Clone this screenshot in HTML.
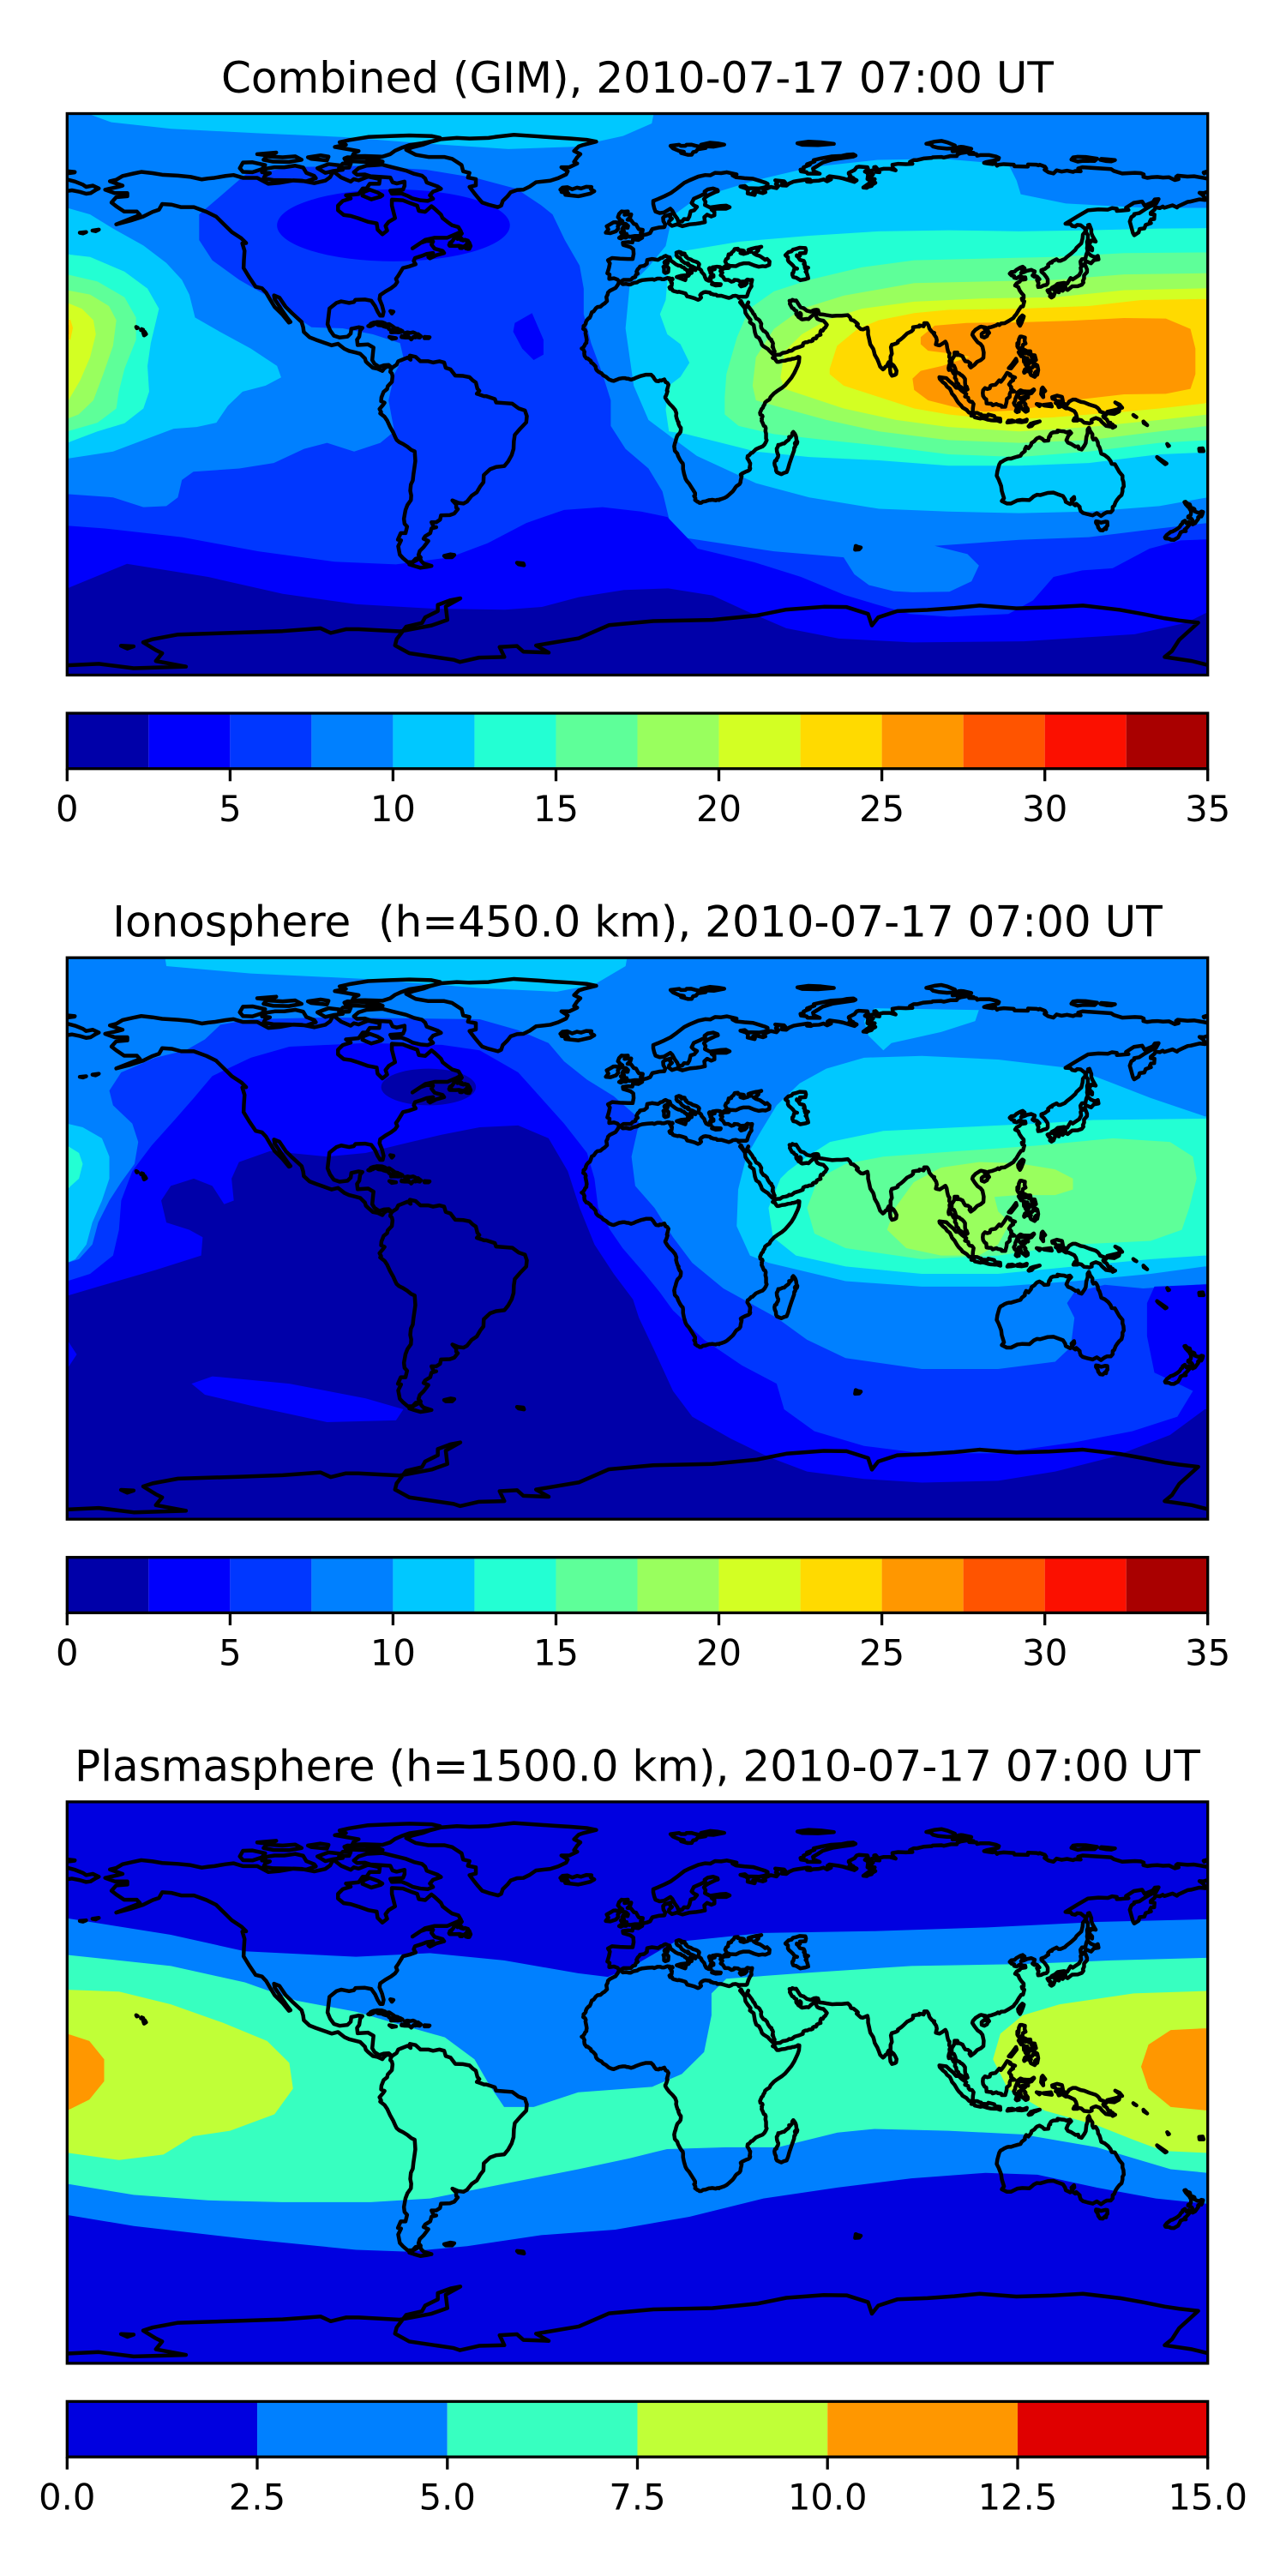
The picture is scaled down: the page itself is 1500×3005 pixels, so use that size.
<!DOCTYPE html>
<html>
<head>
<meta charset="utf-8">
<style>
html,body{margin:0;padding:0;background:#fff;}
body{width:1500px;height:3000px;overflow:hidden;}
svg text{font-family:"DejaVu Sans","Liberation Sans",sans-serif;fill:#000;}
</style>
</head>
<body>
<svg width="1500" height="3000" viewBox="0 0 1500 3000" xmlns="http://www.w3.org/2000/svg">
<defs>
<g id="coast" transform="translate(180 90) scale(1 -1)">
<path fill="none" stroke="#000" stroke-width="4.5" stroke-linejoin="round" stroke-linecap="round" vector-effect="non-scaling-stroke" d="
M -168,65.6 -165,64.5 -161,64.5 -161,63.5 -164.5,63.2 -166,61.5 -164.5,60.3 -162,58.6 -158,58.6 -157,57.5 -162,55.5 -164.5,54.5 -160,55.7 -156,57 -153,58.5 -151,59.2 -150,61 -147,60.8 -144,60 -140,60 -136,58.5 -133,57 -131,55 -130,54 -128,52 -125,50 -123.5,48.5 -124.7,48.4 -124,46 -124.2,43 -124.3,40.5 -122.5,37.5 -120.5,34.5 -118.5,34 -117.2,32.6 -116,30.5 -114.5,28 -112,25.5 -110,23 -109.5,23.2 -110.5,24.5 -112.2,27 -114.5,30.5 -114.7,31.7 -113,31 -111,28 -109,26 -106,23.2 -105.5,21.5 -105.3,20 -103.5,18.3 -101.5,17.5 -99,16.6 -96.5,15.7 -94.5,16.2 -92.5,14.6 -91,13.9 -89,13.4 -87.5,13 -86,11.5 -85.7,10.5 -85,9.8 -83.5,8.5 -82,8.2 -80.5,7.5 -80,8.2 -79,9 -77.5,8.5 -78.5,9.4 -80,9.3 -81.5,8.8 -83,9.8 -83.7,11 -83.5,13 -83.3,15 -85,16 -88.3,15.8 -88.5,17.5 -87.8,18.5 -87.5,20.5 -86.8,21.3 -88,21.5 -90.3,21 -90.5,19.5 -91.5,18.5 -94,18.2 -95.8,18.8 -97,20.5 -97.8,22.5 -97.5,25 -97.2,27.5 -95,29.3 -93.5,29.8 -91,29.3 -89.5,29.6 -89,30.3 -86,30.4 -84,30 -82.8,28.3 -82,26.5 -81.2,25.2 -80.4,25.2 -80.1,26.5 -80.6,28.5 -81.4,30.5 -81.2,31.8 -79.5,33 -77.8,34 -76.5,35 -75.8,36 -76.2,37 -75.5,38 -74.9,39 -74,40.5 -72,41 -70,41.7 -70.6,42.7 -70.2,43.7 -68,44.4 -66.5,45 -64.5,45.3 -66,44 -65.5,43.6 -63.5,44.6 -61,45.3 -61.5,46 -64,46.7 -65,48 -64.5,49 -66.5,49.2 -68.5,48.5 -71,46.8 -69.5,47.8 -67,49.5 -64,50.2 -60,50.2 -57,51.5 -55.7,52.2 -56.5,53.6 -58.5,54.2 -60,55.3 -61.5,56.5 -62,57.6 -64,59.5 -65,60.3 -67,58.5 -69,58.8 -69.5,60.5 -71.5,61.2 -74,62.2 -77.5,62.4 -77.5,60.5 -77,58.5 -76.5,56.5 -78.5,55.3 -79.5,54 -79,52.5 -80.5,51.3 -82,52.8 -82.3,54.8 -85,55.3 -88,56.4 -90.5,57.2 -92.7,57.5 -94.5,59 -94.5,60.5 -93,62 -90.5,62.8 -92,63.8 -88,64.2 -86.7,66 -85.5,66 -84.5,67.5 -81.5,67.5 -81.3,69 -85,69.8 -88,68.6 -89.5,69 -90.5,68.2 -93.5,69.5 -96,71.5 -97,69.6 -98.5,68.5 -102,67.7 -106,68.5 -108.5,68.6 -113,67.8 -116.5,67.5 -120,69.4 -124.5,69.4 -127.5,70.3 -130,70 -133.5,69.4 -135.5,69.2 -137.5,68.9 -141,69.7 -145,70.1 -150,70.4 -153,70.9 -156.6,71.3 -159,70.8 -162.5,70 -164.5,68.8 -166.5,68.3 -164.5,67.6 -162.5,66.9 -164,66.5 -168,65.6 Z
M -77.5,8.5 -76,9.5 -75.5,10.6 -74.5,11 -72.5,11.8 -71.6,11.1 -71.8,12.4 -70,12 -68.5,10.6 -66,10.6 -64.5,10.2 -62.5,10.6 -61,10.2 -60.5,8.5 -59,8 -57.5,6 -55,5.9 -53,5.5 -52,4.5 -51,3.8 -50.5,1.8 -49.9,1.1 -50.7,0.2 -49.5,-0.2 -48.4,-0.6 -47.7,-0.6 -45,-1.5 -44.6,-2.6 -42,-2.8 -39.5,-3 -37.5,-4.5 -35.5,-5.2 -34.9,-7 -35.1,-9 -37,-11 -38.7,-13 -39,-15 -39.1,-17.5 -39.7,-19.5 -40.8,-21.5 -42,-23 -44.6,-23.3 -46.5,-24 -48.5,-25.9 -48.6,-28.2 -49.6,-29.5 -50.7,-31.4 -52.3,-32.5 -53.8,-34.4 -54.9,-35 -56.5,-34.8 -58.4,-34 -57.2,-35.3 -57.2,-36.3 -56.7,-36.8 -57.8,-38.2 -59.2,-38.7 -62,-38.8 -62.3,-40.2 -63.5,-41 -65,-41 -64.3,-42.5 -63.5,-42.6 -65,-43 -65.4,-44.5 -67,-45.5 -67.5,-46.3 -66,-47 -67.5,-49 -68.7,-50.2 -69.1,-51.5 -68.4,-52.3 -70,-52.7 -71,-53.8 -72.5,-53.8 -74,-52.5 -75,-51.4 -75.5,-48.7 -74.6,-46.8 -75.6,-46.6 -74.7,-44.5 -73.2,-44.5 -72.7,-42.4 -73.5,-41.5 -73.7,-39.9 -73.2,-37.1 -72.6,-35.5 -71.5,-33.9 -71.4,-32.4 -71.7,-30.9 -71.5,-28.9 -70.9,-27.6 -70.7,-25.7 -70.4,-23.6 -70.1,-21.4 -70.2,-19.8 -70.3,-18.3 -71.4,-17.8 -72.6,-16.8 -74,-15.9 -75.2,-15.3 -76,-14.6 -76.4,-13.8 -77.1,-12.2 -78.1,-10.4 -79,-8.4 -79.8,-7.2 -81.2,-6.1 -80.9,-5.7 -81.4,-4.7 -80.3,-3.4 -79.8,-2.7 -80.9,-2.2 -80.8,-1 -80.1,0.8 -79,1.7 -78.8,2.6 -77.5,4 -77.3,5.8 -77.5,6.7 -78,7.2 -77.9,7.7 -77.5,8.5
M -68.6,-52.6 -68.2,-53.5 -67.5,-54.2 -65,-55 -66.5,-55.3 -68.5,-55.6 -70.5,-55 -72,-54.5 -70.5,-53.6 -68.6,-52.6 Z
M -61,-51.8 -59,-51.3 -57.8,-51.5 -58.5,-52.2 -60.5,-52.2 Z
M -38,-54 -36,-54.2 -35.8,-54.8 -37.5,-54.5 Z
M -73,78.4 -70,76.8 -66,76.1 -61,76.1 -58.5,75.5 -57.3,74.7 -55.5,73.5 -55,71.5 -53,71 -53.5,69.5 -51,69 -51,67 -53,66.5 -51.5,64.5 -50.3,63 -49,61.5 -47,60.8 -44,60 -43,60.5 -42.5,62 -41,63.5 -40,64.8 -38,65.5 -36,65.6 -34,66.6 -32,68 -27.5,68.5 -25,69.3 -22.5,70.5 -22,71.5 -24,72.8 -21.5,72.8 -19,74 -20,74.5 -19,76 -18,77 -20,78 -18.5,79.5 -17,80 -13,81 -16,81.6 -21,82 -26,82.3 -31.5,82.7 -39,83.2 -45,82.5 -47,82.2 -53,82 -57,82.2 -62,81.8 -65.4,80.9 -67.5,80.1 -71,79.2 -73,78.4 Z
M -80.5,73.6 -77,72.7 -73,71.7 -70.5,70.7 -68,70.1 -67,69.2 -66.5,67.9 -63,66.6 -62,65.9 -64.5,65 -65.5,63.8 -64.5,62.7 -66.2,62 -68.5,62.2 -71,62.8 -72.5,63.6 -74.5,64.4 -77.5,64.3 -78,65.3 -74,65.6 -73.5,66.8 -73.5,68.2 -76,67.6 -77.3,68 -78,69.5 -81,69.7 -84.2,69.9 -86,70.5 -88.5,70.4 -89.5,71.2 -88,72.5 -85.5,73.3 -80.5,73.6 Z
M -118,69.2 -115,68.7 -109.5,68.6 -104.5,68.3 -101.5,69.3 -102,70 -104.5,71 -105.5,72.7 -108,73.3 -111.5,72.8 -114.5,72.8 -117,72.4 -118.5,71.2 -116,70.9 -117.5,70.2 -118,69.2 Z
M -124.5,71.3 -121.5,71.2 -118.5,72.2 -117.5,73.5 -121.5,74.4 -124.5,74.3 -125.5,72.5 -124.5,71.3 Z
M -90,76.3 -86,76.4 -80.5,76.2 -78,77 -76.5,78.1 -74.5,79 -72,79.9 -68,80.5 -64,81.3 -62.3,82.2 -65,82.8 -72,83 -78,82.8 -85,82.5 -91,81.5 -94,80.8 -92,80 -95.5,79.3 -92,78.7 -88,78 -89.5,77.3 -90,76.3 Z
M -91.5,76 -86,75.8 -81.5,75 -80.4,74.6 -86,74.5 -92,74.8 -92.5,75.6 -91.5,76 Z
M -117,76.3 -112,76 -108,76.3 -106,75.2 -110,74.5 -115,74.6 -118,75.2 Z
M -104,76 -100,76.6 -97.5,76.2 -98,75 -103,75.5 Z
M -101,72.5 -97.5,73.8 -94,73.4 -93,72 -96,71.6 -98.5,71 -101,72.5 Z
M -90.5,73.9 -93,74 -94.2,72.6 -91,72.7 Z
M -86.5,64.8 -84.5,65.6 -82,64.7 -80.5,63.8 -81,63.4 -84,62.5 -86.8,63.7 -86.5,64.8 Z
M -120,77 -114,77.5 -116,76.5 Z
M -55.87,51.63 -55.41,51.59 -56.13,50.69 -56.8,49.81 -56.14,50.15 -55.47,49.94 -55.82,49.59 -54.94,49.31 -54.47,49.56 -53.48,49.25 -53.79,48.52 -53.09,48.69 -52.65,47.54 -53.07,46.66 -53.52,46.62 -54.18,46.81 -53.96,47.63 -54.24,47.75 -55.4,46.88 -55.99,46.92 -55.29,47.39 -56.25,47.63 -57.33,47.57 -59.27,47.6 -59.42,47.9 -58.8,48.25 -59.23,48.52 -58.39,49.13 -57.36,50.72 -56.74,51.29 -55.87,51.63 Z
M -82.27,23.19 -80.6,23.11 -79.68,22.77 -79.28,22.4 -78.35,22.51 -77.09,21.66 -76.52,21.21 -75.6,21.02 -75.67,20.74 -74.93,20.69 -74.18,20.28 -74.3,20.05 -74.96,19.92 -75.63,19.87 -76.32,19.95 -77.76,19.86 -77.09,20.41 -78.14,20.74 -78.48,21.03 -78.72,21.6 -79.28,21.56 -80.22,21.83 -80.52,22.04 -81.82,22.19 -82.17,22.39 -81.8,22.64 -82.78,22.69 -83.49,22.17 -83.91,22.15 -84.05,21.91 -84.55,21.8 -84.97,21.9 -84.45,22.2 -84.23,22.57 -83.78,22.79 -83.27,22.98 -82.51,23.08 -82.27,23.19 Z
M -71.71,19.71 -70.81,19.88 -70.21,19.62 -69.77,19.29 -69.22,19.31 -68.81,18.98 -68.32,18.61 -68.69,18.21 -69.62,18.38 -70.13,18.25 -70.67,18.43 -71.4,17.6 -71.71,18.04 -72.37,18.21 -73.45,18.22 -74.46,18.34 -74.37,18.66 -73.45,18.53 -72.33,18.67 -72.79,19.1 -72.78,19.48 -73.41,19.64 -72.58,19.87 -71.71,19.71 Z
M -78.3,18.4 -76.2,18 -77.5,17.8 Z
M -67.2,18.4 -65.6,18.3 -65.9,18 -67.2,18 Z
M -78,26.7 -77,26.5 -77.5,25.9 Z
M -155.5,20 -155.1,19.3 -155.7,18.9 -156,19.8 Z
M -156.5,20.9 -156,20.7 -156.7,20.6 Z
M -158.2,21.6 -157.7,21.3 -158,21.2 Z
M -172,52.5 -170,52.8 -171,52.3 Z
M -176,51.8 -174,52 -175,51.6 Z
M -14.51,66.46 -14.74,65.81 -13.61,65.13 -14.91,64.36 -17.79,63.68 -18.66,63.5 -19.97,63.64 -22.76,63.96 -21.78,64.4 -23.96,64.89 -22.18,65.08 -22.23,65.38 -24.33,65.61 -23.65,66.26 -22.13,66.41 -20.58,65.73 -19.06,66.28 -17.8,65.99 -16.17,66.53 -14.51,66.46 Z
M -3.01,58.64 -4.07,57.55 -3.06,57.69 -1.96,57.68 -2.22,56.87 -3.12,55.97 -2.09,55.91 -1.11,54.62 -0.43,54.46 0.18,53.33 0.47,52.93 1.68,52.74 1.56,52.1 1.05,51.81 1.45,51.29 0.55,50.77 -0.79,50.77 -2.49,50.5 -2.96,50.7 -3.62,50.23 -4.54,50.34 -5.25,49.96 -5.78,50.16 -4.31,51.21 -3.41,51.43 -4.98,51.59 -5.27,51.99 -4.22,52.3 -4.77,52.84 -4.58,53.5 -3.09,53.4 -2.95,53.98 -3.63,54.62 -4.84,54.79 -5.08,55.06 -4.72,55.51 -5.05,55.78 -5.59,55.31 -5.64,56.28 -6.15,56.79 -5.79,57.82 -5.01,58.63 -4.21,58.55 -3.01,58.64 Z
M -6.2,53.87 -6.03,53.15 -6.79,52.26 -8.56,51.67 -9.98,51.82 -9.17,52.86 -9.69,53.88 -8.33,54.66 -7.57,55.13 -6.73,55.17 -5.66,54.55 -6.2,53.87 Z
M -5.6,36 -6.3,36.8 -7.4,37.2 -8.9,37 -8.8,38.4 -9.5,38.8 -9,40.5 -8.7,42 -9.3,43 -8,43.7 -5.5,43.5 -3,43.4 -1.5,43.4 -1.2,45 -1.3,46.5 -2.2,47.2 -4.5,47.9 -4.6,48.6 -3,48.8 -1.6,48.7 -1.4,49.7 0.3,49.5 1.5,50.2 1.6,51 3,51.3 4,51.7 4.7,53 6.9,53.5 8.5,53.6 8.8,54.5 8.2,55.5 8.1,56.6 8.6,57.1 10.5,57.7 10.3,56.8 10.9,56.3 10,55.5 9.9,54.8 10.9,54 12.5,54.5 14.2,53.9 16.5,54.5 18.6,54.7 19.9,54.9 21.3,55.2 21.1,56.8 22,57.6 23.3,57 24.3,57.4 24.3,58.5 23.4,59.2 25,59.5 28,59.5 29.1,60 28,60.5 26.3,60.4 22.9,59.9 21.3,60.7 21.5,61.7 21,62.6 21.5,63.2 22.4,63.8 24.7,64.9 25.4,65.1 25.3,65.5 23.9,66 22.2,65.7 21.2,65 21.4,64.4 19.8,63.6 17.8,62.7 17.1,61.3 17.8,60.6 18.8,60.1 17.9,59 16.8,58.7 16.4,57 15.9,56.1 14.7,56.2 14.1,55.4 12.9,55.4 12.6,56.3 11.8,57.4 11,58.9 10.4,59.5 8.4,58.3 7,58.1 5.7,58.6 5.3,59.7 5,61 5,62 6.5,62.6 8.5,63.5 10.5,64.5 12.4,65.9 14.8,67.8 16.4,68.6 19.2,69.8 21.4,70.3 23,70.2 24.5,71 26.4,70.9 28.2,71.2 31.3,70.5 30,70.2 31.1,69.6 33.8,69.3 36.5,69.1 40.3,67.9 41.1,67.5 41.1,66.8 40,66.3 38.4,66 34.8,66.1 33.9,66.8 32.5,66.6 34.3,66 34.9,65.4 34.8,64.4 37,63.9 37.1,64.3 36.5,64.8 37.2,65.1 39.6,64.5 40.4,64.8 39.8,65.5 42.1,66.5 43.9,66.1 44.5,66.8 43.7,67.4 44.2,68 43.5,68.6 46.3,68.3 46.8,67.7 45.6,67.6 45.6,67 47,66.9 47.9,67.6 49.3,68.2 50.4,68.4 53.7,68.9 54.5,68.8 53.5,68.2 54.7,68.1 55.4,68.4 57.3,68.5 58.8,68.9 59.9,68.3 61.1,68.9 60,69.5 60.6,69.9 63.5,69.5 64.9,69.2 68.5,68.1 69.2,68.6 68.2,69.1 68.1,69.4 66.9,69.5 67.3,70 66.7,70.7 66.7,71 68.5,71.9 69.2,72.8 69.9,73 72.6,72.8 72.8,72.2 71.8,71.4 72.5,71.1 72.8,70.4 72.6,69 73.7,68.4 73.2,67.7 71.3,66.3 72.4,66.2 72.8,66.5 73.9,66.8 74.2,67.3 75.1,67.8 74.5,68.3 74.9,69 73.8,69.1 73.6,69.6 74.4,70.6 73.1,71.4 74.9,72.1 74.7,72.8 75.2,72.9 75.7,72.3 75.3,71.3 76.4,71.2 75.9,71.9 77.6,72.3 79.7,72.3 81.5,71.8 80.6,72.6 80.5,73.6 82.3,73.9 84.7,73.8 86.8,73.9 86,74.5 87.2,75.1 88.3,75.1 90.3,75.6 92.9,75.8 93.2,76 95.9,76.1 96.7,75.9 98.9,76.4 100.8,76.4 101,76.9 102,77.3 104.4,77.7 106.1,77.4 104.7,77.1 107,77 107.2,76.5 108.2,76.7 111.1,76.7 113.3,76.2 114.1,75.8 113.9,75.3 112.8,75 110.2,74.5 109.4,74.2 110.6,74 112.1,73.8 113,74 113.5,73.3 114,73.6 115.6,73.8 118.8,73.6 119,73.1 123.2,73 123.3,73.7 126,73.6 126.6,73.4 127,73.6 128.6,73 129,72.4 128.5,72 129.7,71.2 131.3,70.8 132.3,71.8 133.9,71.4 135.6,71.7 137.5,71.3 138.2,71.6 139.9,71.5 139.1,72.4 140.5,72.8 149.5,72.2 150.4,71.6 153,70.8 157,71 158.9,70.9 159.8,70.5 159.7,69.7 160.9,69.4 162.3,69.6 164.1,69.7 165.9,69.5 167.8,69.6 169.6,68.7 170.8,69 170,69.7 170.5,70.1 173.6,69.8 175.7,69.9 178.6,69.4 180.5,69
M -180.5,69 -177.5,68.2 -175,67.2 -174,66.5 -171.9,66.9 -170,66 -171,65.5 -172.6,64.5 -174,64.3 -176,64.9 -178.5,65.4 -180.5,65.1
M 180.5,65.1 178.7,64.5 177.4,64.6 178.3,64 178.9,63.3 179.2,62.3 177.4,62.5 174.6,61.8 173.7,61.7 172.2,61 170.7,60.3 170.3,59.9 168.9,60.6 166.3,59.8 165.8,60.2 164.9,59.7 163.5,59.9 163.2,59.2 162,58.2 162,57.8 163.2,57.6 163.1,56.2 162.1,56.1 161.7,55.3 162.1,54.9 160.4,54.3 160,53.2 158.5,53 158.2,51.9 156.8,51 156.4,51.7 156,53.2 155.4,55.4 155.9,56.8 156.8,57.4 156.8,57.8 158.4,58.1 160.2,59.3 161.9,60.3 163.7,61.1 164.5,62.6 163.3,62.5 162.7,61.6 160.1,60.5 159.3,61.8 156.7,61.4 154.2,59.8 155,59.1 152.8,58.9 151.3,58.8 151.3,59.5 149.8,59.7 148.5,59.2 145.5,59.3 142.2,59 139,57.1 135.1,54.7 136.7,54.6 137.2,54 138.2,53.8 138.8,54.3 139.9,54.2 141.3,53.1 141.4,52.2 140.6,51.2 140.5,50 140.1,48.4 138.6,47 138.2,46.3 136.9,45.1 135.5,44 134.9,43.4 133.5,42.8 132.9,42.8 132.3,43.3 130.9,42.6 130.8,42.2 130.4,42.3 129.6,41.6 129.7,41 129.2,40.7 128.6,40.2 128,40 127.5,39.8 127.5,39.3 128.3,38.6 129.2,37.4 129.5,36.8 129.5,35.6 129.1,35.1 128.2,34.9 127.4,34.5 126.5,34.4 126.4,34.9 126.6,35.7 126.1,36.7 126.9,36.9 126.2,37.7 125.7,37.9 125.3,37.7 124.7,38.1 125.2,38.7 125.4,39.4 124.7,39.7 124.3,39.9 122.9,39.6 122.1,39.2 121.1,38.9 121.6,39.4 121.4,39.75 122.2,40.4 121.6,40.9 120.8,40.6 119.6,39.9 119,39.3 118,39.2 117.5,38.7 118.1,38.1 118.9,37.9 118.9,37.4 119.7,37.2 120.8,37.9 121.7,37.5 122.4,37.5 122.5,36.9 121.1,36.7 120.6,36.1 119.7,35.6 119.2,34.9 120.2,34.4 120.6,33.4 121.2,32.5 121.9,31.7 121.9,30.9 121.3,30.7 121.5,30.1 122.1,29.8 121.9,29 121.7,28.2 121.1,28.1 120.4,27.1 119.6,25.7 119,25 118.7,24.5 117.3,23.6 115.9,22.8 114.8,22.7 114.2,22.2 113.8,22.5 113.2,22.1 111.8,21.6 110.8,21.4 110.4,20.3 109.9,20.3 109.6,21 109.9,21.4 108.5,21.7 108.1,21.6 106.7,20.7 105.9,19.8 105.7,19.1 106.4,18 107.4,16.7 108.3,16.1 108.9,15.3 109.3,13.4 109.2,11.7 108.4,11 107.2,10.4 106.4,9.5 105.2,8.6 104.8,9.2 105.1,9.9 104.3,10.5 103.5,10.6 103.1,11.2 102.6,12.2 101.7,12.6 100.8,12.6 101,13.4 100.1,13.4 100,12.3 99.2,11 99.2,9.2 99.9,9.2 100.3,8.3 100.5,7.4 101,6.9 101.6,6.7 102.1,6.2 102.4,6.1 103,5.5 103.4,4.9 103.4,3.7 103.5,2.8 103.9,2.5 104.2,1.6 103.5,1.2 102.6,2 101.4,2.8 101.3,3.3 100.7,3.9 100.6,4.8 100.2,5.3 100.3,6 100.1,6.5 99.7,6.8 99.5,7.3 99,7.9 98.5,8.4 98.3,7.8 98.2,8.4 98.3,9 98.6,9.9 98.5,10.7 98.8,11.4 98.4,12 98.5,13.1 98.1,13.6 97.8,14.8 97.6,16.1 97.2,16.9 96.5,16.4 95.4,15.7 94.8,15.8 94.2,16 94.5,17.3 94.3,18.2 93.5,19.4 93.7,19.7 93.1,19.9 92.4,20.7 92.1,21.2 92,21.7 91.8,22.2 91.4,22.8 90.5,22.8 90.6,22.4 90.3,21.8 89.8,22 89.4,22 89,22.1 88.9,21.7 88.2,21.7 87,21.5 87,20.7 86.5,20.2 85.1,19.5 83.9,18.3 83.2,17.7 82.2,17 82.2,16.6 81.7,16.3 80.8,16 80.3,15.9 80,15.1 80.2,13.8 80.3,13 79.9,12.1 79.9,10.4 79.3,10.3 78.9,9.5 79.2,9.2 78.3,8.9 77.9,8.3 77.5,8 76.6,8.9 76.1,10.3 75.7,11.3 75.4,11.8 74.9,12.7 74.6,14 74.4,14.6 73.5,16 73.1,17.9 72.8,19.2 72.8,20.4 72.6,21.4 71.2,20.8 70.5,20.9 69.2,22.1 69.6,22.5 69.3,22.8 68.2,23.7 67.4,23.9 67.1,24.7 66.4,25.4 64.5,25.2 62.9,25.2 61.5,25.1 59.6,25.4 58.5,25.6 57.4,25.7 57,27 56.5,27.1 55.7,27 54.7,26.5 53.5,26.8 52.5,27.6 51.5,27.9 50.9,28.8 50.1,30.1 49.6,30 48.9,30.3 48.6,29.9 48,30 48.2,29.5 48.1,29 48.8,27.7 49.3,27.5 49.5,27.1 50.2,26.7 50.1,25.9 50.2,25.6 50.5,25.3 50.8,24.8 51.1,24.6 51.4,24.6 51.6,25.2 51.6,25.8 51.3,26.1 51.6,24.2 52,24 53.4,24.2 54,24.1 54.7,24.8 55.4,25.4 56.1,26.1 56.4,26.4 56.4,25.9 56.4,24.9 56.8,24.2 57.4,23.9 58.1,23.7 58.7,23.6 59.5,22.7 59.8,22.3 59.3,21.4 58.9,21.1 58.5,20.4 58,20.5 57.8,20.2 57.7,19.7 57.8,19.1 57.2,18.9 56.6,18.6 56.5,18.1 56.3,17.9 55.7,17.9 55.3,17.6 55.3,17.2 54.8,17 54.2,17 53.6,16.7 53.1,16.7 52.4,16.4 52.2,15.9 52.2,15.6 51.2,15.2 49.6,14.7 48.7,14 48.2,13.9 47.9,14 47.4,13.6 46.7,13.4 45.9,13.3 45.4,13 45,12.7 44.5,12.7 43.5,12.6 43.2,13.2 43.3,13.8 43.1,14.1 42.9,14.8 42.6,15.2 42.8,15.3 42.7,15.7 42.8,16.3 42.6,16.8 42.3,17.1 42.3,17.5 41.8,17.8 41.2,18.7 40.9,19.5 40.2,20.2 39.8,20.3 39.1,21.3 39,22 39.1,22.6 38.5,23.7 38,24.1 37.5,24.3 37.2,24.9 36.9,25.6 36.6,25.8 36.2,26.6 35.6,27.4 35.1,28.1 34.6,28.1 34.8,28.6 34.8,29 35,29.5 34.5,28.5 34.2,27.8 33.6,28.2 32.7,29.9
M 32.7,29.9 32.4,29.5 33.3,28.4 33.9,27.6 34.1,26.1 34.8,25 35.7,23.9 35.5,23.1 36.7,22.2 36.9,21 37.1,19.8 37.5,18.6 38.4,18 39,16.8 39.3,15.9 39.8,15.4 41.2,14.5 41.7,13.9 42.6,13 43.1,12.7 43.3,12.4 43.3,12 42.7,11.7 43.1,11.5 43.5,11.3 43.7,10.9 44.1,10.4 44.6,10.4 45.6,10.7 46.6,10.8 47.5,11.1 48.4,11.2 48.9,11.4 49.3,11.4 50.3,11.7 50.7,12 51.1,11.9 51.1,11.7 51,10.6 51,10.4 50.6,9.2 50.1,8.1 49.5,6.8 48.6,5.3 47.7,4.2 46.6,2.9 45.6,2.05 44.1,1.05 43.1,0.3 42,-0.9 41.8,-1.4 41.6,-1.7 40.9,-2.1 40.3,-2.6 40.1,-3.3 39.8,-3.7 39.6,-4.3 39.2,-4.7 38.7,-5.9 38.8,-6.5 39.4,-6.8 39.5,-7.1 39.2,-7.7 39.3,-8 39.2,-8.5 39.5,-9.1 39.9,-10.1 40.3,-10.3 40.5,-10.8 40.4,-11.8 40.6,-12.6 40.6,-14.2 40.8,-14.7 40.5,-15.4 40.1,-16.1 39.5,-16.7 38.5,-17.1 37.4,-17.6 36.3,-18.7 35.9,-18.8 35.2,-19.6 34.8,-19.8 34.7,-20.5 35.2,-21.3 35.4,-21.8 35.6,-22.1 35.5,-23.1 35.4,-23.5 35.6,-23.7 35.5,-24.1 35,-24.5 34.2,-24.8 33,-25.4 32.6,-25.7 32.7,-26.1 32.9,-26.2 32.8,-26.7 32.6,-27.5 32.5,-28.3 32.2,-28.8 31.5,-29.3 31.3,-29.4 30.9,-29.9 30.6,-30.4 30.1,-31.1 28.9,-32.2 28.2,-32.8 27.5,-33.2 26.4,-33.6 25.9,-33.7 25.8,-33.9 25.2,-33.8 24.7,-34 23.6,-33.8 23,-33.9 22.6,-33.9 21.5,-34.3 20.7,-34.4 20.1,-34.8 19.6,-34.8 19.2,-34.5 18.9,-34.4 18.4,-34 18.2,-33.9 18.3,-33.3 17.9,-32.6 18.2,-32.4 18.2,-31.7 17.6,-30.7 17.1,-29.9 16.3,-28.6 15.6,-27.8 15.2,-27.1 14.7,-25.4 14.4,-23.9 14.4,-22.7 14.3,-22.1 13.9,-21.7 13.4,-20.9 12.8,-19.7 12.6,-19 11.8,-18.1 11.7,-17.3 11.6,-16.7 11.8,-15.8 12.1,-14.9 12.2,-14.4 12.5,-13.5 12.7,-13.1 13.3,-12.5 13.6,-12 13.7,-11.3 13.7,-10.7 13.4,-10.4 13.1,-9.8 12.9,-9.2 13,-9 12.7,-8.6 12.4,-7.7 12.2,-6.9 12.3,-6.1 12.2,-5.8 11.9,-5 11.1,-4 10.1,-3 9.4,-2.1 8.8,-1.1 8.8,-0.8 9,-0.5 9.3,0.3 9.5,1 9.3,1.2 9.6,2.3 9.8,3.1 9.4,3.7 8.9,3.9 8.7,4.4 8.5,4.5 8.5,4.8 7.5,4.4 7.1,4.5 6.7,4.2 5.9,4.3 5.4,4.9 5,5.6 4.3,6.3 3.6,6.3 2.7,6.3 1.9,6.1 1.1,5.9 -0.5,5.3 -1.1,5 -2,4.7 -2.9,5 -3.3,5 -4,5.2 -4.6,5.2 -5.8,5 -6.5,4.7 -7.5,4.3 -8,4.4 -9,4.8 -9.9,5.6 -10.8,6.1 -11.4,6.8 -11.7,6.9 -12.4,7.3 -12.9,7.8 -13.1,8.2 -13.2,8.9 -13.7,9.5 -14.1,9.9 -14.6,10.2 -14.7,10.7 -15.1,11 -15.7,11.5 -16.1,11.5 -16.3,11.8 -16.6,12.2 -16.7,12.4 -16.8,13.2 -16.7,13.6 -17.1,14.4 -17.6,14.7 -17.2,14.9 -16.7,15.6 -16.5,16.1 -16.1,16.5 -16.1,17 -16,17.4 -16.1,18.1 -16.3,19.1 -16.4,19.6 -16.3,20.1 -16.5,20.6 -17.1,21 -17,21.4 -17,21.9 -16.6,22.2 -16.3,22.7 -16.3,23 -16,23.7 -15.4,24.4 -15.1,24.5 -14.8,25.1 -14.4,26.3 -13.8,26.6 -13.1,27.6 -12.6,28 -11.7,28.1 -10.9,28.8 -10.4,29.1 -9.6,29.9 -9.8,31.2 -9.4,32 -9.3,32.6 -8.7,33.2 -7.7,33.7 -6.9,34.1 -6.2,35.1 -5.9,35.8 -5.2,35.8 -4.6,35.3 -3.6,35.4 -2.6,35.2 -2.2,35.2 -1.2,35.7 -0.1,35.9 0.5,36.3 1.5,36.6 3.2,36.8 4.8,36.9 5.3,36.7 6.3,37.1 7.3,37.1 7.7,36.9 8.4,36.9 9.5,37.3 10.2,37.2 10.2,36.7 11,37.1 11.1,36.9 10.6,36.4 10.6,35.9 10.9,35.7 10.8,34.8 10.1,34.3 10.3,33.8 10.9,33.8 11.1,33.3 11.5,33.1 12.7,32.8 13.1,32.9 13.9,32.7 15.2,32.3 15.7,31.4 16.6,31.2 18,30.8 19.1,30.3 19.6,30.5 20.1,31 19.8,31.8 20.1,32.2 20.9,32.7 21.5,32.8 22.9,32.6 23.2,32.2 23.6,32.2 23.9,32 24.9,31.9 25.2,31.6 26.5,31.6 27.5,31.3 28.5,31 28.9,30.9 29.7,31.2 30.1,31.5 31,31.6 31.7,31.4 32,30.9 32.3,31.3
M 32.3,31.3 34.3,31.3 34.6,31.5 35,32.8 35.5,33.9 36,34.6 35.9,35.4 36.2,36.7 35.6,36.6 34.7,36.8 34,36.2 32.5,36.1 31.7,36.6 30.6,36.7 30.4,36.3 29.7,36.1 28.7,36.7 27.6,36.7 27,37.7 26.3,38.2 26.8,39 26.2,39.5 27.3,40.4 28.8,40.5 29.2,41.2 31.1,41.1 32.3,41.7 33.5,42 35.2,42 36.9,41.3 38.3,40.9 39.5,41.1 40.4,41 41.6,41.5 41.7,42.6 40.9,43.4 40.3,43.1 40,43.4 38.7,44.3 37.5,44.7 36.7,45.2 37.4,45.4 38.2,46.2 37.7,46.6 39.1,47.3 38.2,47.1 37.4,47 35.8,46.6 35,46.3 35.3,46 35.9,45.7 35,45.7 34.9,45.4 33.5,45 32.5,45.3 32.6,45.5 33.6,46 33.3,46.1 31.7,46.3 31.7,46.7 30.7,46.6 30.4,46 29.6,45.3 29.6,45 29.1,44.8 28.8,44.9 28.6,44 28.6,43.7 28,43.3 27.7,42.6 28,42 28.1,41.6 29,41.3 28.8,41.05 27.6,41 27.2,40.7 26.4,40.2 26.1,40.6 26.1,40.8 25.4,40.9 24.9,40.9 23.7,40.7 24.4,40.1 23.9,40 23.3,40 22.8,40.5 22.6,40.3 22.8,39.7 23.4,39.2 23,39 23.5,38.5 24,38.2 24,37.7 23.1,37.9 23.4,37.4 22.8,37.3 23.2,36.4 22.5,36.4 21.7,36.8 21.3,37.6 21.1,38.3 20.2,39.3 20.2,39.6 20,39.9 19.4,40.3 19.3,40.7 19.4,41.4 19.5,41.7 19.4,41.9 18.9,42.3 18.5,42.5 17.5,42.8 16.9,43.2 16,43.5 15.2,44.2 15.4,44.3 14.9,44.7 14.9,45.1 14.3,45.2 14,44.8 13.7,45.1 13.7,45.5 13.1,45.7 12.3,45.4 12.4,44.9 12.3,44.6 12.6,44.1 13.5,43.6 14,42.8 15.1,42 15.9,42 16.2,41.7 15.9,41.5 17.5,40.9 18.4,40.4 18.5,40.2 18.3,39.8 17.7,40.3 16.9,40.4 16.4,39.8 17.2,39.4 17.1,38.9 16.6,38.8 16.1,38 15.7,37.9 15.9,38.75 16.1,39 15.4,40.05 15,40.2 14.7,40.6 14.1,40.8 13.6,41.2 12.9,41.3 12.1,41.7 11.2,42.4 10.5,42.9 10.2,43.9 9.7,44 8.9,44.4 8.4,44.2 7.9,43.8 7.4,43.7 6.5,43.1 4.6,43.4 3.1,43.1 3,42.5 3,41.9 2.1,41.2 0.8,41 0.7,40.7 0.1,40.1 -0.3,39.3 0.1,38.7 -0.5,38.3 -0.7,37.6 -1.4,37.4 -2.1,36.7 -4.4,36.7 -5,36.3 -5.4,35.9 -5.6,36
M 53,46.9 53.2,46.2 53,45.3 51.3,45.2 51.3,44.5 50.3,44.3 50.3,44.6 51.3,43.1 52.5,42.8 52.7,42.4 52.8,42 52.5,41.8 52.9,41.4 52.8,40.9 53.9,40.6 52.9,40.4 53.3,40 53.4,39.7 53.1,39.3 53.4,39 53.8,37.7 53.9,37.2 53,36.9 51.4,36.6 50.1,37.4 49.2,37.6 48.9,38.3 48.9,38.8 49.2,39 49.4,39.9 49.6,40.2 50.1,40.3 50.4,40.3 49.6,40.6 49.1,41.3 48.6,41.8 47.8,42.5 47.5,43 47.5,43.7 47.5,44 47,44.3 46.7,44.6 47.7,45.6 48.6,45.8 49.1,46.4 50,46.6 51.2,47 53,46.9 Z
M 23.7,35.7 24.2,35.4 26.3,35.3 26.2,35 24.7,34.9 23.5,35.3 Z
M 15.5,38.2 15.1,36.6 12.4,37.6 13.7,38 Z
M 9.2,41.2 9.8,40.5 9.7,39.2 8.8,38.9 8.4,39.2 8.4,40.4 8.2,40.9 Z
M 9.6,42.2 9.2,41.4 8.8,41.6 8.5,42.3 8.7,42.6 9.4,43 Z
M 34,35.06 34.6,35.7 32.9,35.4 32.3,35.1 32.7,34.6 33.9,34.96 Z
M 49.54,-12.47 49.81,-12.9 50.06,-13.56 50.22,-14.76 50.48,-15.23 50.38,-15.71 50.2,-16 49.86,-15.41 49.67,-15.71 49.86,-16.45 49.77,-16.88 49.5,-17.11 49.44,-17.95 48.55,-20.5 47.93,-22.39 47.55,-23.78 47.1,-24.94 46.28,-25.18 45.41,-25.6 44.83,-25.35 44.04,-24.99 43.76,-24.46 43.7,-23.57 43.35,-22.78 43.25,-22.06 43.43,-21.34 43.89,-21.16 43.9,-20.83 44.37,-20.07 44.46,-19.44 44.23,-18.96 44.04,-18.33 43.96,-17.41 44.31,-16.85 44.45,-16.22 44.94,-16.18 45.5,-15.97 45.87,-15.79 46.31,-15.78 46.88,-15.21 47.71,-14.59 48,-14.09 47.87,-13.66 48.29,-13.78 48.85,-13.09 48.86,-12.49 49.19,-12.04 49.54,-12.47 Z
M 81.79,7.52 81.64,6.48 81.22,6.2 80.35,5.97 79.87,6.76 79.7,8.2 80.15,9.82 80.84,9.27 81.3,8.56 81.79,7.52 Z
M 140.98,37.14 140.6,36.34 140.77,35.84 140.25,35.14 138.98,34.67 137.22,34.61 135.79,33.46 135.12,33.85 135.08,34.6 133.34,34.38 132.16,33.9 130.99,33.89 132,33.15 131.33,31.45 130.69,31.03 130.2,31.42 130.45,32.32 129.81,32.61 129.41,33.3 130.35,33.6 130.88,34.23 131.88,34.75 132.62,35.43 134.61,35.73 135.68,35.53 136.72,37.3 137.39,36.83 138.86,37.83 139.43,38.22 140.05,39.44 139.88,40.56 140.31,41.2 141.37,41.38 141.91,39.99 141.88,39.18 140.96,38.17 140.98,37.14 Z
M 141.38,43.39 141.67,44.77 141.97,45.55 143.14,44.51 143.91,44.17 144.61,43.96 145.32,44.38 145.54,43.26 144.06,42.99 143.18,42 141.61,42.68 141.07,41.58 139.96,41.57 139.82,42.56 140.31,43.33 141.38,43.39 Z
M 134.64,34.15 134.77,33.81 134.2,33.2 133.79,33.52 133.28,33.29 133.01,32.7 132.36,32.99 132.37,33.46 132.92,34.06 133.49,33.94 133.9,34.36 134.64,34.15 Z
M 143.65,50.75 144.65,48.98 143.17,49.31 142.56,47.86 143.53,46.84 143.51,46.14 142.75,46.74 142.09,45.97 141.91,46.81 142.02,47.78 141.9,48.86 142.14,49.62 142.18,51 141.59,51.94 141.68,53.3 142.61,53.76 142.21,54.23 142.65,54.37 143.26,52.74 143.24,51.76 143.65,50.75 Z
M 121.78,24.39 121.18,22.79 120.75,21.97 120.22,22.81 120.11,23.56 120.69,24.54 121.5,25.3 121.95,24.99 121.78,24.39 Z
M 110.34,18.68 109.48,18.2 108.66,18.51 108.63,19.37 109.12,19.82 110.21,20.1 110.79,20.08 111.01,19.7 110.57,19.26 110.34,18.68 Z
M 120.8,18.5 121.3,18.5 122.3,18.2 122.2,17.1 122.5,16.3 121.7,15.9 121.5,15.1 121.7,14.3 122.3,14.2 123,13.8 124,13.8 124.2,12.6 123.3,13 122.9,13.6 122.5,13.1 121.5,13.7 120.6,13.9 120.7,14.8 120.6,14.4 120.1,15 119.9,15.4 119.9,16.4 120.3,16 120.4,17.6 120.8,18.5 Z
M 126.4,8.4 126.5,7.8 126.2,6.3 125.8,7.3 125.4,6.8 125.7,6 125.4,5.6 124.2,6.2 123.9,6.9 124.2,7.4 123.6,7.8 123.3,7.4 122.8,7.5 122.1,6.9 122,7.2 122.3,8 122.9,8.3 123.5,8.7 123.8,8.2 124.6,8.5 124.8,9 125.5,9 125.4,9.8 126.2,9.3 126.4,8.4 Z
M 124,10.3 123.6,9.9 123.3,9.3 122.8,9.1 122.4,9.7 122.9,10.9 123.5,10.9 124,10.3 Z
M 124.8,10.1 125.3,9.9 125,11.3 125.8,11 125.4,12.5 124.3,12.6 124.5,11.7 124.8,10.1 Z
M 122,10.4 121.9,11.9 122.5,11.6 123.1,11.6 122.7,10.7 122,10.4 Z
M 120.3,13.5 121.2,13.4 121.5,12.7 121.1,12.2 120.8,12.7 120.3,13.5 Z
M 119.5,11.4 119.7,10.6 117.9,8.3 117.2,8.4 118.3,9.7 119.5,11.4 Z
M 95.3,5.5 97.5,5.2 98.4,4.3 99.7,3.2 100.6,2.1 101.4,2.1 102.3,1.2 103.1,0.6 103.8,0.1 103.4,-0.7 104.4,-1.1 104.5,-1.8 104.9,-2.3 105.6,-2.4 106.1,-3.1 105.9,-4.3 105.8,-5.9 104.7,-5.9 103.9,-5 102.6,-4.2 102.2,-3.6 101.4,-2.8 100.9,-2.1 100.1,-0.7 99.3,0.2 99,1 98.6,1.8 97.7,2.5 97.2,3.3 96.4,3.9 95.4,5 95.3,5.5 Z
M 108.49,-6.42 108.62,-6.78 110.54,-6.88 110.76,-6.47 112.61,-6.95 112.98,-7.59 114.48,-7.78 114.56,-8.75 113.46,-8.35 112.56,-8.38 111.52,-8.3 110.59,-8.12 109.43,-7.74 108.69,-7.64 108.28,-7.77 106.45,-7.35 106.28,-6.92 105.37,-6.85 106.05,-5.9 107.27,-5.95 108.07,-6.35 108.49,-6.42 Z
M 118.26,-8.36 119.13,-8.71 117.97,-8.91 116.74,-9.03 117.08,-8.46 117.63,-8.45 118.26,-8.36 Z
M 122.9,-8.09 122.76,-8.65 121.25,-8.93 119.92,-8.81 119.92,-8.44 120.72,-8.24 121.34,-8.54 122.01,-8.46 122.9,-8.09 Z
M 125.09,-9.39 124.44,-10.14 123.58,-10.36 123.46,-10.24 124.14,-9.42 125.07,-9.09 126.97,-8.67 125.93,-9.11 125.09,-9.39 Z
M 117.9,1.8 119,0.9 117.8,0.8 117.5,0.1 117.5,-0.8 116.6,-1.5 116.5,-2.5 116.1,-4 115,-4 114.9,-3.6 114.5,-3.5 113.8,-3.4 113.3,-3.1 112.1,-3.5 111.7,-3 111,-3 110.2,-2.9 110.1,-1.6 109.6,-1.3 109.1,-0.5 109,0.4 109.1,1.3 109.7,2 110.4,1.7 111.2,1.9 111.4,2.7 111.8,2.9 113,3.1 113.7,3.9 114.2,4.5 114.7,4 115.5,5 116.2,6.1 116.7,6.9 117.7,6.4 117.6,6 118.4,5.7 119.2,5.4 118.4,5 118.6,4.5 117.9,4.1 117.3,3.2 118,2.3 117.9,1.8 Z
M 125.2,1.4 124.4,0.4 123.7,0.2 122.7,0.4 121,0.4 120.2,0.2 120.1,-0.5 120.9,-1.4 121.5,-1 123.3,-0.6 123.3,-1 122.8,-0.9 122.4,-1.5 121.5,-1.9 122.5,-3.2 122.3,-3.5 123.2,-4.7 123.2,-5.3 122.6,-5.6 122.2,-5.3 122.7,-4.5 121.7,-4.9 121.1,-4.2 120.9,-3.6 121,-2.6 120.3,-2.9 120.4,-4.1 120.4,-5.5 119.8,-5.7 119.4,-5.4 119.7,-4.5 119.5,-3.5 119.1,-3.5 118.8,-2.8 119.2,-2.1 119.3,-1.4 119.8,-0.2 120,0.6 120.9,1.3 121.7,1 122.9,0.9 124.1,0.9 125.1,1.6 125.2,1.4 Z
M 127.9,2.2 128.7,1.1 128,0.5 128.1,-0.9 127.4,0.1 127.6,1.8 Z
M 128,-3.4 130.5,-3.1 130.8,-3.9 128.5,-3.6 Z
M 126,-3.1 127.2,-3.3 126.9,-3.8 Z
M 134.1,-1.2 134.4,-2.8 135.5,-3.4 136.3,-2.3 137.4,-1.7 138.3,-1.7 139.2,-2.1 139.9,-2.4 141,-2.6 142.7,-3.3 144.6,-3.9 145.3,-4.4 145.8,-5 146,-5.5 147.6,-6.1 147.9,-6.6 147,-7 147.2,-7.4 148.1,-8 148.7,-9.1 149.3,-9.1 149.3,-9.5 150,-9.7 149.7,-9.9 150.8,-10.3 150,-10.7 149.8,-10.4 147.9,-10.1 146.6,-8.9 146,-8.1 144.7,-7.6 143.9,-7.9 143.3,-8.2 143.4,-9 142.6,-9.3 142.1,-9.2 141,-9.1 140.1,-8.3 139.1,-8.1 138.9,-8.4 137.6,-8.4 138,-7.6 138.7,-7.3 138.4,-6.2 137.9,-5.4 136,-4.5 135.2,-4.5 133.7,-3.5 133.4,-4 133,-4.1 132.8,-3.7 132.8,-3.3 132,-2.8 133.1,-2.5 133.8,-2.5 133.7,-2.2 132.2,-2.2 131.8,-1.6 131,-1.4 130.9,-0.9 132.4,-0.4 134,-0.8 134.1,-1.2 Z
M 148.3,-5.6 150,-5.2 151.6,-4.8 152.3,-4.2 152,-5.5 150.5,-6.3 148.6,-6.1 Z
M 150.8,-2.6 152.2,-3.3 153,-4.3 152.4,-3.8 151.2,-2.9 Z
M 156.5,-6.6 157.5,-7.3 156.9,-7 Z
M 159.7,-8.7 160.9,-9.9 159.8,-9.2 Z
M 167.2,-15.9 167.8,-16.5 167.5,-16.6 Z
M 164,-20.1 167,-22.2 166.6,-22.4 164.4,-20.6 Z
M 178.4,-17.3 178.7,-18.2 177.4,-18.2 177.3,-17.4 Z
M 114.2,-22.5 113.6,-24.7 113.4,-26.1 114,-27.3 114.8,-29.4 115,-31 115.7,-33.3 115,-34.2 116.6,-35 117.9,-35 119.9,-34 121.5,-33.8 123.7,-33.9 124.2,-33.5 125.1,-32.7 126.1,-32.2 127.1,-32.3 129.5,-31.6 131.3,-31.5 132.6,-32 134.3,-32.6 135,-33.7 135.2,-34.5 136,-34.9 136.6,-35.2 137.5,-34.1 137.9,-33.6 137.8,-32.9 137,-33.7 137.4,-35 138.2,-35.6 138.5,-35.1 139.6,-36.1 139.6,-36.5 139.9,-37.4 140.6,-38 142,-38.4 143.7,-38.8 145,-38.1 146.3,-39 147.4,-38.2 148.2,-37.8 149.4,-37.8 150,-37.1 150,-36.1 150.5,-35.7 150.9,-34.6 151.4,-33.8 152.1,-32.9 152.8,-32.3 153.1,-31.1 153.1,-30.2 153.5,-29.5 153.4,-28.1 153.1,-27.2 153.1,-26.1 152.6,-25.5 152.1,-24.9 150.7,-22.4 149.7,-22.3 149.3,-21.3 148.6,-20.4 147.5,-19.5 146.4,-19 146.1,-17.8 145.8,-16.9 145.4,-16.3 145.3,-15.4 144.9,-14.6 144.6,-14.2 143.9,-14.5 143.6,-13.8 143.6,-12.8 142.9,-11.8 142.5,-10.7 142.1,-11.3 142.1,-12.5 141.7,-13.7 141.6,-14.6 141.5,-15.6 141.1,-16.4 140.2,-17.7 139.3,-17.4 139.1,-16.7 138.3,-16.8 136.9,-15.9 135.9,-15.5 135.4,-14.7 136,-13.3 136.5,-12.8 136.9,-12.4 136.5,-11.9 135.4,-12.2 134.7,-11.9 133.6,-11.8 132.6,-11.6 132.6,-12.1 131.2,-12.2 130.6,-12.5 130.2,-13.1 130.3,-13.4 129.9,-13.6 129.7,-14.8 128.4,-14.9 127.8,-14.3 126.9,-13.8 126.1,-14.1 125.7,-14.5 125.3,-15 124.4,-15.6 124.2,-16.3 123.4,-17.3 122.7,-16.8 122.3,-17.6 122.3,-18.2 121.3,-19 120.9,-19.7 119.8,-20 118.8,-20.3 117.9,-20.6 117.2,-20.6 116.7,-20.7 115.8,-21.1 115.2,-21.5 114.6,-21.8 114.2,-22.5 Z
M 147.69,-40.81 148.29,-40.88 148.36,-42.06 148.02,-42.41 147.91,-43.21 147.56,-42.94 146.87,-43.63 146.05,-43.55 145.43,-42.69 145.3,-42.03 144.72,-41.16 144.74,-40.7 145.4,-40.79 146.36,-41.14 146.91,-41 147.69,-40.81 Z
M 174.61,-36.16 175.34,-37.21 175.36,-36.53 175.81,-36.8 175.96,-37.56 176.76,-37.88 177.44,-37.96 178.01,-37.58 178.52,-37.7 178.27,-38.58 177.97,-39.17 177.21,-39.15 176.94,-39.45 177.03,-39.88 176.01,-41.29 175.24,-41.69 175.07,-41.43 174.65,-41.28 175.23,-40.46 174.9,-39.91 173.82,-39.51 173.85,-39.15 174.57,-38.8 174.74,-38.03 174.7,-37.38 174.29,-36.71 174.32,-36.53 173.84,-36.12 173.05,-35.24 172.64,-34.53 173.01,-34.45 173.55,-35.01 174.33,-35.27 174.61,-36.16 Z
M 172.8,-40.49 173.02,-40.92 173.25,-41.33 173.96,-40.93 174.25,-41.35 174.25,-41.77 173.88,-42.23 173.22,-42.97 172.71,-43.37 173.08,-43.85 172.31,-43.87 171.45,-44.24 171.19,-44.9 170.62,-45.91 169.83,-46.36 169.33,-46.64 168.41,-46.62 167.76,-46.29 166.68,-46.22 166.51,-45.85 167.05,-45.11 168.3,-44.12 168.95,-43.94 169.67,-43.56 170.52,-43.03 171.13,-42.51 171.57,-41.77 171.95,-41.51 172.1,-40.96 172.8,-40.49 Z
M 68.9,-48.6 69.6,-48.9 70.5,-49.1 70,-49.7 68.7,-49.8 Z
M 15.14,79.67 15.52,80.02 16.99,80.05 18.25,79.7 21.54,78.96 19.03,78.56 18.47,77.83 17.59,77.64 17.12,76.81 15.91,76.77 13.76,77.38 14.67,77.74 13.17,78.02 11.22,78.87 10.44,79.65 13.17,80.01 13.72,79.66 15.14,79.67 Z
M 27.4,80.06 25.45,80.41 22.92,80.66 20.08,80.03 21.8,79.5 24.1,79.4 27.4,80.06 Z
M 55.63,71.54 57.54,70.72 53.68,70.76 53.41,71.21 51.6,71.47 51.46,72.01 52.48,72.23 52.44,72.77 54.43,73.63 53.51,73.75 55.9,74.63 55.63,75.08 57.87,75.61 61.17,76.25 64.5,76.44 66.21,76.81 68.16,76.94 68.85,76.54 68.18,76.23 64.64,75.74 61.58,75.26 58.48,74.31 56.99,73.33 55.42,72.37 55.63,71.54 Z
M 50.5,80.5 54,81 58,80.8 62,80.3 57,79.9 52,80 Z
M 102.84,79.28 105.37,78.71 105.08,78.31 99.44,77.92 101.26,79.23 102.09,79.35 102.84,79.28 Z
M 93.78,81.02 95.94,81.25 97.88,80.75 100.19,79.78 99.94,78.88 97.76,78.76 94.97,79.04 93.31,79.43 92.55,80.14 91.18,80.34 93.78,81.02 Z
M 138.83,76.14 141.47,76.09 145.09,75.56 144.3,74.82 140.61,74.85 138.96,74.61 136.97,75.26 137.51,75.95 138.83,76.14 Z
M 146.36,75.48 148.22,75.35 150.73,75.08 149.58,74.69 147.98,74.78 146.12,75.17 Z
M 180,71.52 178.9,70.8 178.7,71.1 180,71.5 Z
M -180,71.52 -177.58,71.27 -177.66,71.13 -180,70.83 Z
M -180.5,-86.9 -170,-86.4 -159,-87.8 -142.5,-87.3 -152,-85.5 -150,-83 -152,-82 -156,-79.5 -153,-78.5 -145,-77 -126,-76.4 -112,-75.9 -100,-75 -96.8,-76.5 -92,-75.3 -88,-75.3 -75,-76 -65,-74.1 -60,-72.3 -60.5,-68 -55.9,-65.4 -59,-66 -63,-67.5 -63,-69.5 -67,-71.5 -68,-73.3 -73,-74.5 -76,-78.5 -76.5,-80.5 -72,-83 -58,-85.1 -56,-85.8 -50,-84.4 -42,-84.2 -43.5,-81 -38,-80.7 -36,-82.5 -28,-82.8 -32,-80.5 -18.5,-78.2 -9,-74 5,-72.7 23.7,-72.3 37.7,-70.9 47,-69 58.8,-68.1 66,-68.2 72.8,-70.4 74,-74.1 76,-71.5 82,-69.5 91.5,-69.1 100,-68.5 108,-67.7 119.6,-68.6 130,-68.3 140.6,-67.7 152.3,-69.1 160,-70.5 166.4,-71.8 171,-72.5 177,-73.2 171,-78.7 168.7,-82.3 166.4,-84.2 175,-85.5 180.5,-86.9
M -163,-80.6 -159,-80.8 -161,-81.5 Z
"/>
</g>
</defs>

<!-- ================= PANEL 1 ================= -->
<g>
<text x="743.5" y="108" font-size="50" text-anchor="middle">Combined (GIM), 2010-07-17 07:00 UT</text>
<svg x="78.3" y="132.5" width="1330.4" height="655" viewBox="0 0 360 180" preserveAspectRatio="none" overflow="hidden">
<g transform="scale(0.2588 0.17476) translate(-82 -207)">
<rect x="-100" y="-100" width="1800" height="1500" fill="#0080ff"/>
<polygon fill="#00c8ff" points="107,100 812,100 795,225 760,248 700,268 620,272 520,262 418,250 314,243 209,235 136,223 107,207"/>
<polygon fill="#0037ff" points="243,392 260,370 300,318 360,305 440,303 520,310 580,325 630,345 660,375 674,392 689,439 707,486 712,528 712,575 721,628 735,685 745,733 745,780 763,822 791,858 808,900 816,950 830,984 944,1010 1029,1021 1042,1052 1060,1072 1090,1083 1113,1085 1158,1084 1185,1065 1194,1036 1180,1015 1140,1000 1243,989 1328,984 1414,968 1473,958 1600,950 1600,1300 -50,1300 -50,905 82,905 138,911 175,929 203,927 217,911 222,879 236,864 292,858 334,848 371,822 399,811 432,827 464,811 481,790 474,733 481,685 492,654 488,628 455,612 418,601 380,599 362,581 329,544 292,512 259,476 243,439"/>
<polygon fill="#0000fc" points="-50,963 82,963 128,968 222,984 315,1010 408,1029 483,1034 549,1021 595,995 642,958 688,934 735,929 782,937 814,947 851,1005 920,1030 977,1057 1030,1090 1068,1107 1110,1125 1158,1130 1230,1125 1260,1100 1285,1057 1320,1045 1357,1041 1402,1005 1440,990 1600,980 1600,1300 -50,1300"/>
<polygon fill="#0000a9" points="-50,1078 82,1078 155,1033 254,1057 345,1088 435,1107 526,1115 616,1117 661,1112 706,1094 761,1081 815,1078 869,1091 914,1122 959,1151 1023,1170 1113,1177 1249,1175 1384,1162 1447,1141 1479,1117 1600,1100 1600,1300 -50,1300"/>
<ellipse fill="#0000fc" cx="480" cy="412" rx="142" ry="66"/>
<polygon fill="#0000fc" points="649,573 663,622 663,649 651,659 637,638 626,607 628,591"/>
<polygon fill="#00c8ff" points="768,523 790,490 812,450 820,395 850,362 920,330 990,305 1070,292 1150,290 1230,300 1240,330 1245,355 1300,372 1400,380 1600,380 1600,911 1473,911 1414,927 1328,937 1243,940 1157,937 1072,932 987,911 922,885 850,835 814,795 791,769 773,706 763,601"/>
<polygon fill="#23ffd3" points="830,460 901,442 987,431 1072,423 1157,421 1243,423 1328,421 1414,418 1600,415 1600,827 1499,827 1414,832 1328,848 1243,853 1157,853 1072,843 987,837 922,827 880,811 837,795 816,790 812,750 816,706 830,690 841,664 830,630 814,612 805,575 812,549 816,480"/>
<polygon fill="#5eff99" points="884,727 886,685 899,617 914,565 944,533 987,512 1051,489 1115,476 1200,473 1286,470 1371,463 1600,460 1600,806 1473,806 1414,811 1328,827 1243,837 1157,832 1072,816 1008,806 944,795 901,780 884,759"/>
<polygon fill="#99ff5e" points="918,706 922,654 944,602 978,565 1029,541 1115,518 1200,515 1286,512 1371,502 1600,497 1600,780 1473,780 1414,790 1328,806 1243,811 1157,806 1072,790 1008,769 957,748 922,733"/>
<polygon fill="#d3ff23" points="952,691 957,643 978,612 1008,586 1051,565 1115,552 1200,546 1286,544 1371,531 1600,523 1600,759 1473,759 1414,769 1328,782 1243,790 1157,782 1093,769 1029,748 987,727 957,712"/>
<polygon fill="#ffda00" points="1012,675 1021,633 1046,602 1072,586 1115,573 1157,567 1243,565 1328,560 1392,549 1600,544 1600,738 1473,738 1414,748 1371,754 1286,764 1221,769 1157,759 1115,748 1072,727 1029,706 1012,685"/>
<polygon fill="#ff9700" points="1123,617 1140,596 1179,591 1243,590 1307,587 1371,582 1422,583 1452,602 1458,638 1458,685 1452,712 1422,721 1371,722 1307,733 1243,751 1200,754 1166,746 1132,733 1115,714 1113,693 1123,679 1149,670 1183,653 1153,646 1132,642 1123,630"/>
<polygon fill="#00c8ff" points="-50,380 82,380 110,392 138,418 175,449 203,481 222,512 231,539 238,581 268,607 306,638 338,670 343,691 324,706 296,717 278,743 264,774 240,782 212,785 175,806 138,827 82,840 -50,840"/>
<polygon fill="#23ffd3" points="-50,465 82,465 110,470 152,497 180,528 194,565 184,628 180,670 182,717 175,748 152,775 119,790 82,811 -50,811"/>
<polygon fill="#5eff99" points="-50,502 82,502 119,515 152,544 166,581 166,622 152,675 145,717 142,748 119,774 82,790 -50,790"/>
<polygon fill="#99ff5e" points="-50,531 82,531 110,539 133,560 142,586 138,633 126,685 114,733 96,759 82,767 -50,767"/>
<polygon fill="#d3ff23" points="-50,554 82,554 100,565 114,586 117,612 110,654 98,696 86,727 82,738 -50,738"/>
<polygon fill="#ffda00" points="-50,580 86,585 89,600 86,622 -50,625"/>
<polygon fill="#ff9700" points="-50,590 84,595 84,612 -50,615"/>
</g>
<use href="#coast"/>
</svg>
<rect x="78.3" y="132.5" width="1330.4" height="655" fill="none" stroke="#000" stroke-width="3.3"/>
<g>
<rect x="78.3" y="832" width="95.03" height="64.7" fill="#0000a9"/>
<rect x="173.33" y="832" width="95.03" height="64.7" fill="#0000fc"/>
<rect x="268.36" y="832" width="95.03" height="64.7" fill="#0037ff"/>
<rect x="363.39" y="832" width="95.03" height="64.7" fill="#0080ff"/>
<rect x="458.42" y="832" width="95.03" height="64.7" fill="#00c8ff"/>
<rect x="553.45" y="832" width="95.03" height="64.7" fill="#23ffd3"/>
<rect x="648.48" y="832" width="95.03" height="64.7" fill="#5eff99"/>
<rect x="743.51" y="832" width="95.03" height="64.7" fill="#99ff5e"/>
<rect x="838.54" y="832" width="95.03" height="64.7" fill="#d3ff23"/>
<rect x="933.57" y="832" width="95.03" height="64.7" fill="#ffda00"/>
<rect x="1028.6" y="832" width="95.03" height="64.7" fill="#ff9700"/>
<rect x="1123.63" y="832" width="95.03" height="64.7" fill="#ff5400"/>
<rect x="1218.66" y="832" width="95.03" height="64.7" fill="#fb1000"/>
<rect x="1313.69" y="832" width="95.01" height="64.7" fill="#a90000"/>
<rect x="78.3" y="832" width="1330.4" height="64.7" fill="none" stroke="#000" stroke-width="3.3"/>
<g stroke="#000" stroke-width="3.3">
<line x1="78.3" y1="896.7" x2="78.3" y2="911.3"/>
<line x1="268.4" y1="896.7" x2="268.4" y2="911.3"/>
<line x1="458.4" y1="896.7" x2="458.4" y2="911.3"/>
<line x1="648.5" y1="896.7" x2="648.5" y2="911.3"/>
<line x1="838.5" y1="896.7" x2="838.5" y2="911.3"/>
<line x1="1028.6" y1="896.7" x2="1028.6" y2="911.3"/>
<line x1="1218.7" y1="896.7" x2="1218.7" y2="911.3"/>
<line x1="1408.7" y1="896.7" x2="1408.7" y2="911.3"/>
</g>
<g font-size="41.67" text-anchor="middle">
<text x="78.3" y="958">0</text>
<text x="268.4" y="958">5</text>
<text x="458.4" y="958">10</text>
<text x="648.5" y="958">15</text>
<text x="838.5" y="958">20</text>
<text x="1028.6" y="958">25</text>
<text x="1218.7" y="958">30</text>
<text x="1408.7" y="958">35</text>
</g>
</g>
</g>

<!-- ================= PANEL 2 ================= -->
<g transform="translate(0 984.7)">
<text x="743.5" y="108" font-size="50" text-anchor="middle" style="white-space:pre">Ionosphere  (h=450.0 km), 2010-07-17 07:00 UT</text>
<svg x="78.3" y="132.5" width="1330.4" height="655" viewBox="0 0 360 180" preserveAspectRatio="none" overflow="hidden">
<g transform="scale(0.23377 0.11742) translate(-10 -17)">
<rect x="-100" y="-100" width="1800" height="1800" fill="#0080ff"/>
<polygon fill="#0037ff" points="67,380 83,330 129,290 170,270 196,240 217,200 258,185 361,180 567,185 619,215 660,250 681,300 712,350 748,395 779,450 782,470 772,560 777,640 803,700 828,780 854,850 896,920 932,960 968,1000 1009,1060 1061,1110 1164,1140 1267,1140 1344,1120 1365,1080 1370,1000 1360,960 1370,930 1411,910 1463,920 1600,900 1600,1600 -50,1600 -50,850 10,850 26,840 44,800 52,740 67,680 83,630 101,580 106,520 98,470 72,420"/>
<polygon fill="#0000fc" points="10,900 41,880 72,830 80,760 83,680 98,600 124,530 155,460 181,400 206,340 258,290 310,260 413,250 516,255 567,270 593,300 619,330 650,400 681,470 712,550 722,620 727,700 743,760 760,810 790,880 810,930 828,980 870,1060 921,1130 968,1180 978,1250 1019,1310 1086,1350 1164,1370 1267,1370 1370,1340 1448,1310 1509,1270 1530,1200 1515,1185 1478,1150 1468,1050 1468,960 1478,915 1600,905 1600,1600 -50,1600 -50,900"/>
<polygon fill="#0000a9" points="-50,940 10,940 52,915 129,870 191,830 193,780 175,760 144,740 137,680 150,640 181,620 206,640 222,690 235,680 232,620 242,575 284,545 361,560 413,550 464,525 516,500 567,480 619,475 660,510 686,600 702,700 722,800 748,880 774,950 782,1000 803,1090 828,1200 854,1270 906,1330 957,1380 1009,1420 1086,1440 1164,1450 1267,1445 1344,1420 1422,1380 1499,1320 1546,1250 1600,1230 1600,1600 -50,1600"/>
<ellipse fill="#0000a9" cx="498" cy="370" rx="64" ry="50"/>
<polygon fill="#0000fc" points="178,1180 206,1160 310,1180 413,1220 464,1250 454,1280 361,1285 258,1240 196,1210"/>
<polygon fill="#0000fc" points="-50,1060 10,1060 23,1100 10,1140 -50,1140"/>
<polygon fill="#00c8ff" points="137,-50 766,-50 766,17 764,40 722,90 671,110 567,100 413,75 258,60 144,40"/>
<polygon fill="#00c8ff" points="1086,190 1100,155 1241,160 1236,190 1190,220 1123,250 1112,270 1092,230"/>
<polygon fill="#00c8ff" points="999,360 1035,320 1086,290 1164,285 1267,295 1370,320 1422,360 1473,400 1546,450 1600,455 1600,860 1546,860 1473,880 1370,900 1267,915 1164,915 1061,900 957,850 932,830 914,750 916,650 927,560 947,490 968,420"/>
<polygon fill="#23ffd3" points="1009,560 1040,520 1112,490 1215,480 1319,470 1396,460 1600,455 1600,830 1546,830 1473,840 1370,860 1267,880 1164,880 1061,860 994,830 963,780 957,700 973,620 983,600"/>
<polygon fill="#5eff99" points="1009,700 1024,620 1061,580 1112,560 1215,545 1319,530 1422,510 1499,520 1530,560 1535,620 1525,700 1515,760 1473,790 1370,800 1267,830 1164,840 1061,810 1019,770"/>
<polygon fill="#99ff5e" points="1117,760 1128,700 1153,630 1190,590 1241,575 1293,578 1344,595 1368,620 1368,650 1344,665 1293,665 1262,670 1267,710 1283,740 1267,800 1241,830 1190,830 1143,810"/>
<polygon fill="#00c8ff" points="-50,470 10,470 31,480 57,510 67,560 67,620 57,680 44,740 36,800 21,840 10,850 -50,850"/>
<polygon fill="#23ffd3" points="-50,530 10,530 26,550 31,580 26,620 15,640 10,650 -50,650"/>
</g>
<use href="#coast"/>
</svg>
<rect x="78.3" y="132.5" width="1330.4" height="655" fill="none" stroke="#000" stroke-width="3.3"/>
<g>
<rect x="78.3" y="832" width="95.03" height="64.7" fill="#0000a9"/>
<rect x="173.33" y="832" width="95.03" height="64.7" fill="#0000fc"/>
<rect x="268.36" y="832" width="95.03" height="64.7" fill="#0037ff"/>
<rect x="363.39" y="832" width="95.03" height="64.7" fill="#0080ff"/>
<rect x="458.42" y="832" width="95.03" height="64.7" fill="#00c8ff"/>
<rect x="553.45" y="832" width="95.03" height="64.7" fill="#23ffd3"/>
<rect x="648.48" y="832" width="95.03" height="64.7" fill="#5eff99"/>
<rect x="743.51" y="832" width="95.03" height="64.7" fill="#99ff5e"/>
<rect x="838.54" y="832" width="95.03" height="64.7" fill="#d3ff23"/>
<rect x="933.57" y="832" width="95.03" height="64.7" fill="#ffda00"/>
<rect x="1028.6" y="832" width="95.03" height="64.7" fill="#ff9700"/>
<rect x="1123.63" y="832" width="95.03" height="64.7" fill="#ff5400"/>
<rect x="1218.66" y="832" width="95.03" height="64.7" fill="#fb1000"/>
<rect x="1313.69" y="832" width="95.01" height="64.7" fill="#a90000"/>
<rect x="78.3" y="832" width="1330.4" height="64.7" fill="none" stroke="#000" stroke-width="3.3"/>
<g stroke="#000" stroke-width="3.3">
<line x1="78.3" y1="896.7" x2="78.3" y2="911.3"/>
<line x1="268.4" y1="896.7" x2="268.4" y2="911.3"/>
<line x1="458.4" y1="896.7" x2="458.4" y2="911.3"/>
<line x1="648.5" y1="896.7" x2="648.5" y2="911.3"/>
<line x1="838.5" y1="896.7" x2="838.5" y2="911.3"/>
<line x1="1028.6" y1="896.7" x2="1028.6" y2="911.3"/>
<line x1="1218.7" y1="896.7" x2="1218.7" y2="911.3"/>
<line x1="1408.7" y1="896.7" x2="1408.7" y2="911.3"/>
</g>
<g font-size="41.67" text-anchor="middle">
<text x="78.3" y="958">0</text>
<text x="268.4" y="958">5</text>
<text x="458.4" y="958">10</text>
<text x="648.5" y="958">15</text>
<text x="838.5" y="958">20</text>
<text x="1028.6" y="958">25</text>
<text x="1218.7" y="958">30</text>
<text x="1408.7" y="958">35</text>
</g>
</g>
</g>

<!-- ================= PANEL 3 ================= -->
<g transform="translate(0 1969.4)">
<text x="743.5" y="108" font-size="50" text-anchor="middle">Plasmasphere (h=1500.0 km), 2010-07-17 07:00 UT</text>
<svg x="78.3" y="132.5" width="1330.4" height="655" viewBox="0 0 360 180" preserveAspectRatio="none" overflow="hidden">
<g transform="scale(0.23377 0.11742) translate(-10 -17)">
<rect x="-100" y="-100" width="1800" height="1800" fill="#0000e0"/>
<polygon fill="#0080ff" points="-50,335 10,335 150,380 250,425 400,440 500,430 600,450 700,485 740,495 770,470 830,400 950,375 1100,370 1250,360 1400,345 1600,335 1600,1125 1480,1100 1400,1070 1320,1035 1250,1030 1150,1045 1050,1070 950,1100 850,1150 750,1185 650,1200 550,1230 470,1245 400,1240 250,1210 100,1175 10,1145 -50,1140"/>
<polygon fill="#37ffc0" points="-50,435 10,435 150,465 250,510 320,560 400,590 450,620 520,660 560,720 580,790 600,850 640,850 700,810 800,795 840,760 870,700 880,600 880,540 900,500 1000,485 1150,465 1300,460 1420,450 1600,440 1600,1040 1500,1020 1400,960 1300,925 1200,915 1100,910 1050,920 1000,945 970,960 900,960 820,965 770,990 700,1020 600,1060 500,1100 420,1110 300,1110 200,1105 100,1090 10,1060 -50,1060"/>
<polygon fill="#c0ff37" points="-50,530 10,530 80,535 150,570 220,620 280,670 310,730 315,800 290,870 230,915 180,930 140,980 80,995 10,975 -50,975"/>
<polygon fill="#c0ff37" points="1600,530 1450,540 1350,570 1300,600 1270,650 1260,720 1280,800 1330,860 1400,900 1450,940 1490,970 1600,980"/>
<polygon fill="#ff9700" points="-50,650 10,650 40,670 60,720 60,780 40,830 10,860 -50,860"/>
<polygon fill="#ff9700" points="1600,630 1500,640 1470,680 1460,740 1470,800 1500,850 1600,870"/>
</g>
<use href="#coast"/>
</svg>
<rect x="78.3" y="132.5" width="1330.4" height="655" fill="none" stroke="#000" stroke-width="3.3"/>
<g>
<rect x="78.3" y="832" width="221.73" height="64.7" fill="#0000e0"/>
<rect x="300.03" y="832" width="221.73" height="64.7" fill="#0080ff"/>
<rect x="521.76" y="832" width="221.73" height="64.7" fill="#37ffc0"/>
<rect x="743.49" y="832" width="221.73" height="64.7" fill="#c0ff37"/>
<rect x="965.22" y="832" width="221.73" height="64.7" fill="#ff9700"/>
<rect x="1186.95" y="832" width="221.75" height="64.7" fill="#e00000"/>
<rect x="78.3" y="832" width="1330.4" height="64.7" fill="none" stroke="#000" stroke-width="3.3"/>
<g stroke="#000" stroke-width="3.3">
<line x1="78.3" y1="896.7" x2="78.3" y2="911.3"/>
<line x1="300.0" y1="896.7" x2="300.0" y2="911.3"/>
<line x1="521.8" y1="896.7" x2="521.8" y2="911.3"/>
<line x1="743.5" y1="896.7" x2="743.5" y2="911.3"/>
<line x1="965.2" y1="896.7" x2="965.2" y2="911.3"/>
<line x1="1187.0" y1="896.7" x2="1187.0" y2="911.3"/>
<line x1="1408.7" y1="896.7" x2="1408.7" y2="911.3"/>
</g>
<g font-size="41.67" text-anchor="middle">
<text x="78.3" y="958">0.0</text>
<text x="300.0" y="958">2.5</text>
<text x="521.8" y="958">5.0</text>
<text x="743.5" y="958">7.5</text>
<text x="965.2" y="958">10.0</text>
<text x="1187.0" y="958">12.5</text>
<text x="1408.7" y="958">15.0</text>
</g>
</g>
</g>
</svg>
</body>
</html>
